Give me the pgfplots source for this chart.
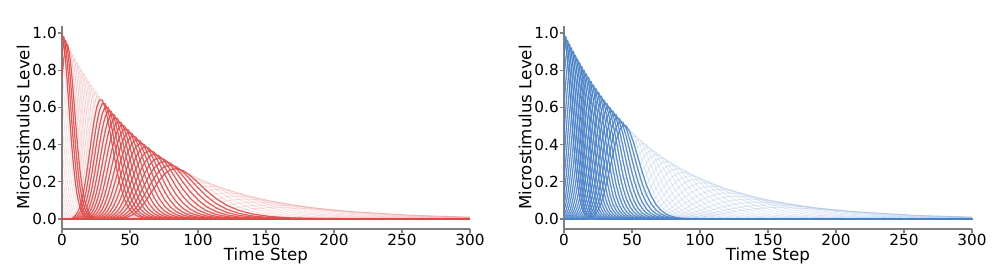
\documentclass[border=0pt]{standalone}
\usepackage{pgfplots}
\pgfplotsset{compat=1.18}
\usepackage{pgfplotstable}
\usepackage{fontspec}
\setmainfont{DejaVu Sans}
\definecolor{cred}{RGB}{226,72,72}
\definecolor{cblue}{RGB}{74,130,200}

% column 0: time step; columns 1..50: microstimulus levels (centres 0.02 ... 1.00)
\pgfplotstableread[header=false]{
0 0 0 0 0 0 0 0 0 0 0 0 0 0 0 0 0 0 0 0 0 0 0 0 0 0 0 0 0 0 0 0 0 0 0 0 0 0 0.011 0.023 0.044 0.080 0.135 0.216 0.325 0.458 0.607 0.755 0.882 0.969 1
1.34 0 0 0 0 0 0 0 0 0 0 0 0 0 0 0 0 0 0 0 0 0 0 0 0 0 0 0 0 0 0 0 0 0 0 0 0 0.011 0.022 0.043 0.078 0.132 0.212 0.319 0.449 0.595 0.740 0.864 0.950 0.98 0.950
2.70 0 0 0 0 0 0 0 0 0 0 0 0 0 0 0 0 0 0 0 0 0 0 0 0 0 0 0 0 0 0 0 0 0 0 0 0.011 0.022 0.042 0.076 0.130 0.207 0.312 0.440 0.583 0.725 0.847 0.930 0.96 0.930 0.847
4.09 0 0 0 0 0 0 0 0 0 0 0 0 0 0 0 0 0 0 0 0 0 0 0 0 0 0 0 0 0 0 0 0 0 0 0.010 0.021 0.041 0.075 0.127 0.203 0.306 0.431 0.571 0.710 0.829 0.911 0.94 0.911 0.829 0.710
5.52 0 0 0 0 0 0 0 0 0 0 0 0 0 0 0 0 0 0 0 0 0 0 0 0 0 0 0 0 0 0 0 0 0 0.010 0.021 0.040 0.073 0.124 0.199 0.299 0.421 0.558 0.695 0.811 0.891 0.92 0.891 0.811 0.695 0.558
6.97 0 0 0 0 0 0 0 0 0 0 0 0 0 0 0 0 0 0 0 0 0 0 0 0 0 0 0 0 0 0 0 0 0.010 0.021 0.040 0.072 0.122 0.194 0.293 0.412 0.546 0.680 0.794 0.872 0.90 0.872 0.794 0.680 0.546 0.412
8.46 0 0 0 0 0 0 0 0 0 0 0 0 0 0 0 0 0 0 0 0 0 0 0 0 0 0 0 0 0 0 0 0.010 0.020 0.039 0.070 0.119 0.190 0.286 0.403 0.534 0.664 0.776 0.853 0.88 0.853 0.776 0.664 0.534 0.403 0.286
9.98 0 0 0 0 0 0 0 0 0 0 0 0 0 0 0 0 0 0 0 0 0 0 0 0 0 0 0 0 0 0 0.010 0.020 0.038 0.068 0.116 0.186 0.280 0.394 0.522 0.649 0.759 0.833 0.86 0.833 0.759 0.649 0.522 0.394 0.280 0.186
11.54 0 0 0 0 0 0 0 0 0 0 0 0 0 0 0 0 0 0 0 0 0 0 0 0 0 0 0 0 0 0.009 0.019 0.037 0.067 0.113 0.181 0.273 0.385 0.510 0.634 0.741 0.814 0.84 0.814 0.741 0.634 0.510 0.385 0.273 0.181 0.113
13.13 0 0 0 0 0 0 0 0 0 0 0 0 0 0 0 0 0 0 0 0 0 0 0 0 0 0 0 0 0.009 0.019 0.036 0.065 0.111 0.177 0.267 0.376 0.498 0.619 0.723 0.795 0.82 0.795 0.723 0.619 0.498 0.376 0.267 0.177 0.111 0.065
14.76 0 0 0 0 0 0 0 0 0 0 0 0 0 0 0 0 0 0 0 0 0 0 0 0 0 0 0 0.009 0.018 0.035 0.064 0.108 0.173 0.260 0.366 0.486 0.604 0.706 0.775 0.80 0.775 0.706 0.604 0.486 0.366 0.260 0.173 0.108 0.064 0.035
16.44 0 0 0 0 0 0 0 0 0 0 0 0 0 0 0 0 0 0 0 0 0 0 0 0 0 0 0.009 0.018 0.034 0.062 0.105 0.168 0.254 0.357 0.473 0.589 0.688 0.756 0.78 0.756 0.688 0.589 0.473 0.357 0.254 0.168 0.105 0.062 0.034 0.018
18.16 0 0 0 0 0 0 0 0 0 0 0 0 0 0 0 0 0 0 0 0 0 0 0 0 0 0.008 0.017 0.033 0.060 0.103 0.164 0.247 0.348 0.461 0.574 0.670 0.736 0.76 0.736 0.670 0.574 0.461 0.348 0.247 0.164 0.103 0.060 0.033 0.017 0.008
19.92 0 0 0 0 0 0 0 0 0 0 0 0 0 0 0 0 0 0 0 0 0 0 0 0 0.008 0.017 0.032 0.059 0.100 0.160 0.241 0.339 0.449 0.559 0.653 0.717 0.74 0.717 0.653 0.559 0.449 0.339 0.241 0.160 0.100 0.059 0.032 0.017 0.008 0
21.73 0 0 0 0 0 0 0 0 0 0 0 0 0 0 0 0 0 0 0 0 0 0 0 0.008 0.016 0.032 0.057 0.097 0.156 0.234 0.330 0.437 0.544 0.635 0.698 0.72 0.698 0.635 0.544 0.437 0.330 0.234 0.156 0.097 0.057 0.032 0.016 0.008 0 0
23.60 0 0 0 0 0 0 0 0 0 0 0 0 0 0 0 0 0 0 0 0 0 0 0.008 0.016 0.031 0.056 0.095 0.151 0.228 0.321 0.425 0.529 0.617 0.678 0.70 0.678 0.617 0.529 0.425 0.321 0.228 0.151 0.095 0.056 0.031 0.016 0.008 0 0 0
25.52 0 0 0 0 0 0 0 0 0 0 0 0 0 0 0 0 0 0 0 0 0 0.008 0.016 0.030 0.054 0.092 0.147 0.221 0.311 0.413 0.513 0.600 0.659 0.68 0.659 0.600 0.513 0.413 0.311 0.221 0.147 0.092 0.054 0.030 0.016 0.008 0 0 0 0
27.49 0 0 0 0 0 0 0 0 0 0 0 0 0 0 0 0 0 0 0 0 0.007 0.015 0.029 0.053 0.089 0.143 0.215 0.302 0.401 0.498 0.582 0.640 0.66 0.640 0.582 0.498 0.401 0.302 0.215 0.143 0.089 0.053 0.029 0.015 0.007 0 0 0 0 0
29.53 0 0 0 0 0 0 0 0 0 0 0 0 0 0 0 0 0 0 0 0.007 0.015 0.028 0.051 0.086 0.138 0.208 0.293 0.388 0.483 0.564 0.620 0.64 0.620 0.564 0.483 0.388 0.293 0.208 0.138 0.086 0.051 0.028 0.015 0.007 0 0 0 0 0 0
31.63 0 0 0 0 0 0 0 0 0 0 0 0 0 0 0 0 0 0 0.007 0.014 0.027 0.049 0.084 0.134 0.202 0.284 0.376 0.468 0.547 0.601 0.62 0.601 0.547 0.468 0.376 0.284 0.202 0.134 0.084 0.049 0.027 0.014 0.007 0 0 0 0 0 0 0
33.80 0 0 0 0 0 0 0 0 0 0 0 0 0 0 0 0 0 0.007 0.014 0.026 0.048 0.081 0.130 0.195 0.275 0.364 0.453 0.529 0.581 0.60 0.581 0.529 0.453 0.364 0.275 0.195 0.130 0.081 0.048 0.026 0.014 0.007 0 0 0 0 0 0 0 0
36.04 0 0 0 0 0 0 0 0 0 0 0 0 0 0 0 0 0.006 0.013 0.025 0.046 0.078 0.125 0.189 0.266 0.352 0.438 0.512 0.562 0.58 0.562 0.512 0.438 0.352 0.266 0.189 0.125 0.078 0.046 0.025 0.013 0.006 0 0 0 0 0 0 0 0 0
38.36 0 0 0 0 0 0 0 0 0 0 0 0 0 0 0 0.006 0.013 0.025 0.045 0.076 0.121 0.182 0.256 0.340 0.423 0.494 0.543 0.56 0.543 0.494 0.423 0.340 0.256 0.182 0.121 0.076 0.045 0.025 0.013 0.006 0 0 0 0 0 0 0 0 0 0
40.77 0 0 0 0 0 0 0 0 0 0 0 0 0 0 0.006 0.012 0.024 0.043 0.073 0.117 0.176 0.247 0.328 0.408 0.476 0.523 0.54 0.523 0.476 0.408 0.328 0.247 0.176 0.117 0.073 0.043 0.024 0.012 0.006 0 0 0 0 0 0 0 0 0 0 0
43.26 0 0 0 0 0 0 0 0 0 0 0 0 0 0.006 0.012 0.023 0.041 0.070 0.112 0.169 0.238 0.316 0.393 0.459 0.504 0.52 0.504 0.459 0.393 0.316 0.238 0.169 0.112 0.070 0.041 0.023 0.012 0.006 0 0 0 0 0 0 0 0 0 0 0 0
45.86 0 0 0 0 0 0 0 0 0 0 0 0 0.006 0.011 0.022 0.040 0.068 0.108 0.163 0.229 0.304 0.378 0.441 0.485 0.50 0.485 0.441 0.378 0.304 0.229 0.163 0.108 0.068 0.040 0.022 0.011 0.006 0 0 0 0 0 0 0 0 0 0 0 0 0
48.56 0 0 0 0 0 0 0 0 0 0 0 0.005 0.011 0.021 0.038 0.065 0.104 0.156 0.220 0.291 0.362 0.423 0.465 0.48 0.465 0.423 0.362 0.291 0.220 0.156 0.104 0.065 0.038 0.021 0.011 0.005 0 0 0 0 0 0 0 0 0 0 0 0 0 0
51.38 0 0 0 0 0 0 0 0 0 0 0.005 0.010 0.020 0.037 0.062 0.099 0.150 0.211 0.279 0.347 0.406 0.446 0.46 0.446 0.406 0.347 0.279 0.211 0.150 0.099 0.062 0.037 0.020 0.010 0.005 0 0 0 0 0 0 0 0 0 0 0 0 0 0 0
54.32 0 0 0 0 0 0 0 0 0 0.005 0.010 0.019 0.035 0.059 0.095 0.143 0.202 0.267 0.332 0.388 0.426 0.44 0.426 0.388 0.332 0.267 0.202 0.143 0.095 0.059 0.035 0.019 0.010 0.005 0 0 0 0 0 0 0 0 0 0 0 0 0 0 0 0
57.39 0 0 0 0 0 0 0 0 0.005 0.010 0.018 0.033 0.057 0.091 0.137 0.192 0.255 0.317 0.370 0.407 0.42 0.407 0.370 0.317 0.255 0.192 0.137 0.091 0.057 0.033 0.018 0.010 0.005 0 0 0 0 0 0 0 0 0 0 0 0 0 0 0 0 0
60.62 0 0 0 0 0 0 0 0.004 0.009 0.018 0.032 0.054 0.086 0.130 0.183 0.243 0.302 0.353 0.388 0.40 0.388 0.353 0.302 0.243 0.183 0.130 0.086 0.054 0.032 0.018 0.009 0.004 0 0 0 0 0 0 0 0 0 0 0 0 0 0 0 0 0 0
64.02 0 0 0 0 0 0 0.004 0.009 0.017 0.030 0.051 0.082 0.124 0.174 0.231 0.287 0.335 0.368 0.38 0.368 0.335 0.287 0.231 0.174 0.124 0.082 0.051 0.030 0.017 0.009 0.004 0 0 0 0 0 0 0 0 0 0 0 0 0 0 0 0 0 0 0
67.59 0 0 0 0 0 0.004 0.008 0.016 0.029 0.049 0.078 0.117 0.165 0.219 0.272 0.318 0.349 0.36 0.349 0.318 0.272 0.219 0.165 0.117 0.078 0.049 0.029 0.016 0.008 0.004 0 0 0 0 0 0 0 0 0 0 0 0 0 0 0 0 0 0 0 0
71.37 0 0 0 0 0.004 0.008 0.015 0.027 0.046 0.073 0.111 0.156 0.206 0.257 0.300 0.329 0.34 0.329 0.300 0.257 0.206 0.156 0.111 0.073 0.046 0.027 0.015 0.008 0.004 0 0 0 0 0 0 0 0 0 0 0 0 0 0 0 0 0 0 0 0 0
75.39 0 0 0 0.004 0.007 0.014 0.025 0.043 0.069 0.104 0.147 0.194 0.242 0.282 0.310 0.32 0.310 0.282 0.242 0.194 0.147 0.104 0.069 0.043 0.025 0.014 0.007 0.004 0 0 0 0 0 0 0 0 0 0 0 0 0 0 0 0 0 0 0 0 0 0
79.66 0 0 0.003 0.007 0.013 0.024 0.041 0.065 0.098 0.137 0.182 0.227 0.265 0.291 0.30 0.291 0.265 0.227 0.182 0.137 0.098 0.065 0.041 0.024 0.013 0.007 0.003 0 0 0 0 0 0 0 0 0 0 0 0 0 0 0 0 0 0 0 0 0 0 0
84.22 0 0.003 0.006 0.012 0.022 0.038 0.060 0.091 0.128 0.170 0.211 0.247 0.271 0.28 0.271 0.247 0.211 0.170 0.128 0.091 0.060 0.038 0.022 0.012 0.006 0.003 0 0 0 0 0 0 0 0 0 0 0 0 0 0 0 0 0 0 0 0 0 0 0 0
89.12 0.003 0.006 0.011 0.021 0.035 0.056 0.085 0.119 0.158 0.196 0.229 0.252 0.26 0.252 0.229 0.196 0.158 0.119 0.085 0.056 0.035 0.021 0.011 0.006 0.003 0 0 0 0 0 0 0 0 0 0 0 0 0 0 0 0 0 0 0 0 0 0 0 0 0
94.42 0.005 0.011 0.019 0.032 0.052 0.078 0.110 0.146 0.181 0.212 0.233 0.24 0.233 0.212 0.181 0.146 0.110 0.078 0.052 0.032 0.019 0.011 0.005 0.003 0 0 0 0 0 0 0 0 0 0 0 0 0 0 0 0 0 0 0 0 0 0 0 0 0 0
100.18 0.010 0.018 0.030 0.048 0.072 0.101 0.134 0.166 0.194 0.213 0.22 0.213 0.194 0.166 0.134 0.101 0.072 0.048 0.030 0.018 0.010 0.005 0.002 0 0 0 0 0 0 0 0 0 0 0 0 0 0 0 0 0 0 0 0 0 0 0 0 0 0 0
106.48 0.016 0.027 0.043 0.065 0.092 0.121 0.151 0.176 0.194 0.20 0.194 0.176 0.151 0.121 0.092 0.065 0.043 0.027 0.016 0.009 0.005 0.002 0 0 0 0 0 0 0 0 0 0 0 0 0 0 0 0 0 0 0 0 0 0 0 0 0 0 0 0
113.45 0.024 0.039 0.059 0.082 0.109 0.136 0.159 0.174 0.18 0.174 0.159 0.136 0.109 0.082 0.059 0.039 0.024 0.014 0.008 0.004 0.002 0 0 0 0 0 0 0 0 0 0 0 0 0 0 0 0 0 0 0 0 0 0 0 0 0 0 0 0 0
121.24 0.035 0.052 0.073 0.097 0.121 0.141 0.155 0.16 0.155 0.141 0.121 0.097 0.073 0.052 0.035 0.022 0.013 0.007 0.004 0.002 0 0 0 0 0 0 0 0 0 0 0 0 0 0 0 0 0 0 0 0 0 0 0 0 0 0 0 0 0 0
130.08 0.046 0.064 0.085 0.106 0.123 0.136 0.14 0.136 0.123 0.106 0.085 0.064 0.046 0.030 0.019 0.011 0.006 0.003 0.002 0 0 0 0 0 0 0 0 0 0 0 0 0 0 0 0 0 0 0 0 0 0 0 0 0 0 0 0 0 0 0
140.28 0.055 0.073 0.091 0.106 0.116 0.12 0.116 0.106 0.091 0.073 0.055 0.039 0.026 0.016 0.010 0.005 0.003 0.001 0 0 0 0 0 0 0 0 0 0 0 0 0 0 0 0 0 0 0 0 0 0 0 0 0 0 0 0 0 0 0 0
152.34 0.061 0.076 0.088 0.097 0.10 0.097 0.088 0.076 0.061 0.046 0.033 0.022 0.014 0.008 0.004 0.002 0.001 0 0 0 0 0 0 0 0 0 0 0 0 0 0 0 0 0 0 0 0 0 0 0 0 0 0 0 0 0 0 0 0 0
167.10 0.060 0.071 0.078 0.08 0.078 0.071 0.060 0.049 0.037 0.026 0.017 0.011 0.006 0.004 0.002 0.001 0 0 0 0 0 0 0 0 0 0 0 0 0 0 0 0 0 0 0 0 0 0 0 0 0 0 0 0 0 0 0 0 0 0
186.14 0.053 0.058 0.06 0.058 0.053 0.045 0.036 0.027 0.020 0.013 0.008 0.005 0.003 0.001 0.001 0 0 0 0 0 0 0 0 0 0 0 0 0 0 0 0 0 0 0 0 0 0 0 0 0 0 0 0 0 0 0 0 0 0 0
212.96 0.039 0.04 0.039 0.035 0.030 0.024 0.018 0.013 0.009 0.005 0.003 0.002 0.001 0 0 0 0 0 0 0 0 0 0 0 0 0 0 0 0 0 0 0 0 0 0 0 0 0 0 0 0 0 0 0 0 0 0 0 0 0
258.82 0.02 0.019 0.018 0.015 0.012 0.009 0.007 0.004 0.003 0.002 0.001 0 0 0 0 0 0 0 0 0 0 0 0 0 0 0 0 0 0 0 0 0 0 0 0 0 0 0 0 0 0 0 0 0 0 0 0 0 0 0
300 0.011 0.010 0.009 0.007 0.006 0.004 0.003 0.002 0.001 0.001 0 0 0 0 0 0 0 0 0 0 0 0 0 0 0 0 0 0 0 0 0 0 0 0 0 0 0 0 0 0 0 0 0 0 0 0 0 0 0 0
}\ms

\pgfplotsset{msaxis/.style={
  scale only axis, width=293.76pt, height=146.16pt,
  xmin=0, xmax=300, ymin=-0.054, ymax=1.038,
  axis x line*=bottom, axis y line*=left,
  axis line style={draw=black!50, line width=0.9pt},
  xtick={0,50,100,150,200,250,300},
  ytick={0,0.2,0.4,0.6,0.8,1.0},
  yticklabel style={/pgf/number format/fixed, /pgf/number format/fixed zerofill, /pgf/number format/precision=1},
  /pgf/number format/assume math mode=true,
  tick align=outside, major tick length=3pt,
  tick style={draw=black!50, line width=0.9pt},
  tick label style={font=\fontsize{11}{13}\selectfont, text=black, inner sep=0.6pt},
  every axis x label/.style={at={(axis description cs:0.5,0)}, yshift=-19.5pt, anchor=center, font=\fontsize{12}{14}\selectfont},
  every axis y label/.style={at={(axis description cs:0,0.5)}, xshift=-28pt, rotate=90, anchor=center, font=\fontsize{12}{14}\selectfont},
  xlabel={Time Step}, ylabel={Microstimulus Level},
  line join=round,
}}

\begin{document}
\begin{tikzpicture}
\useasboundingbox (0,0) rectangle (720pt,192.96pt);
\begin{axis}[msaxis, at={(44.64pt,28.08pt)}, anchor=south west]
\pgfplotsinvokeforeach{1,...,12,33,34,...,46}{
  \addplot[cred, opacity=0.18, line width=0.6pt] table[x index=0, y index=#1]{\ms};
}
\pgfplotsinvokeforeach{13,...,32,47,48,49,50}{
  \addplot[cred, opacity=0.9, line width=0.9pt] table[x index=0, y index=#1]{\ms};
}
\end{axis}
\begin{axis}[msaxis, at={(406.08pt,28.08pt)}, anchor=south west]
\pgfplotsinvokeforeach{1,...,24}{
  \addplot[cblue, opacity=0.18, line width=0.6pt] table[x index=0, y index=#1]{\ms};
}
\pgfplotsinvokeforeach{25,...,50}{
  \addplot[cblue, opacity=0.9, line width=0.9pt] table[x index=0, y index=#1]{\ms};
}
\end{axis}
\end{tikzpicture}
\end{document}
